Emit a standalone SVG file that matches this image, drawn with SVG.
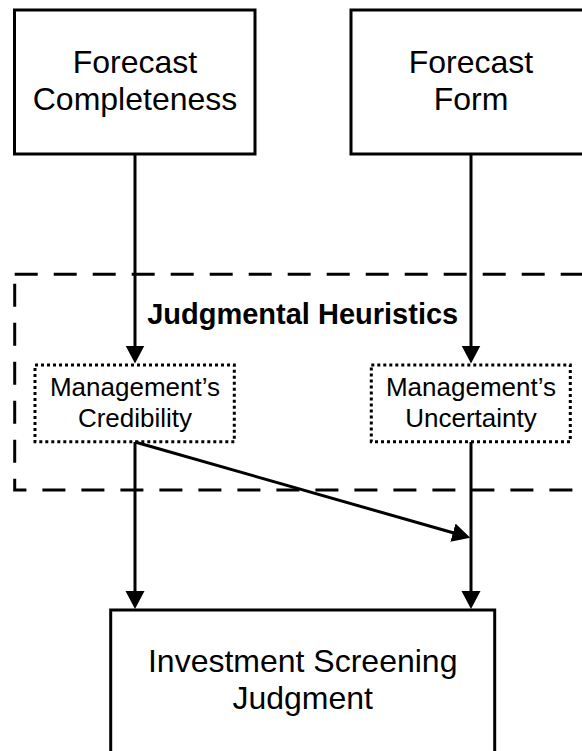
<svg xmlns="http://www.w3.org/2000/svg" width="582" height="751" viewBox="0 0 582 751">
<style>
.box{fill:#fff;stroke:#000;stroke-width:3}
.dot{fill:#fff;stroke:#000;stroke-width:3;stroke-dasharray:3 3}
.grp{fill:none;stroke:#000;stroke-width:3;stroke-dasharray:23 16}
.t{font-family:"Liberation Sans",Arial,sans-serif;fill:#000;text-anchor:middle}
.lg{font-size:32px}
.md{font-size:26px}
.bd{font-size:29px;font-weight:bold}
.ln{stroke:#000;stroke-width:3;fill:none;marker-end:url(#ah)}
</style>
<defs>
<marker id="ah" markerUnits="userSpaceOnUse" markerWidth="19" markerHeight="20" refX="1" refY="9.5" orient="auto" viewBox="0 0 19 19">
<path d="M0,0 L18,9.5 L0,19 Z" fill="#000"/>
</marker>
</defs>
<rect width="582" height="751" fill="#fff"/>
<g id="heuristics-group">
<rect class="grp" x="14.7" y="274.3" width="600" height="215.7"/>
<text class="t bd" x="302.7" y="324">Judgmental Heuristics</text>
</g>
<g id="forecast-completeness">
<rect class="box" x="14.5" y="10" width="240.5" height="144"/>
<text class="t lg" x="135" y="73">Forecast</text>
<text class="t lg" x="135" y="110">Completeness</text>
</g>
<g id="forecast-form">
<rect class="box" x="351" y="10" width="240" height="144"/>
<text class="t lg" x="471" y="73">Forecast</text>
<text class="t lg" x="471" y="110">Form</text>
</g>
<g id="mgmt-credibility">
<rect class="dot" x="35" y="365" width="199.3" height="76.7"/>
<text class="t md" x="135" y="395.7">Management’s</text>
<text class="t md" x="135" y="426.7">Credibility</text>
</g>
<g id="mgmt-uncertainty">
<rect class="dot" x="371.3" y="365" width="199" height="76.7"/>
<text class="t md" x="471" y="395.7">Management’s</text>
<text class="t md" x="471" y="426.7">Uncertainty</text>
</g>
<g id="investment-judgment">
<rect class="box" x="110.7" y="610" width="384" height="160"/>
<text class="t lg" x="302.7" y="671.7">Investment Screening</text>
<text class="t lg" x="302.7" y="709.3">Judgment</text>
</g>
<g id="connectors">
<line class="ln" x1="135" y1="154" x2="135" y2="346.5"/>
<line class="ln" x1="471" y1="154" x2="471" y2="346.5"/>
<line class="ln" x1="135" y1="442" x2="135" y2="592"/>
<line class="ln" x1="471" y1="442" x2="471" y2="592"/>
<line class="ln" x1="135" y1="442" x2="453.9" y2="533"/>
</g>
</svg>
